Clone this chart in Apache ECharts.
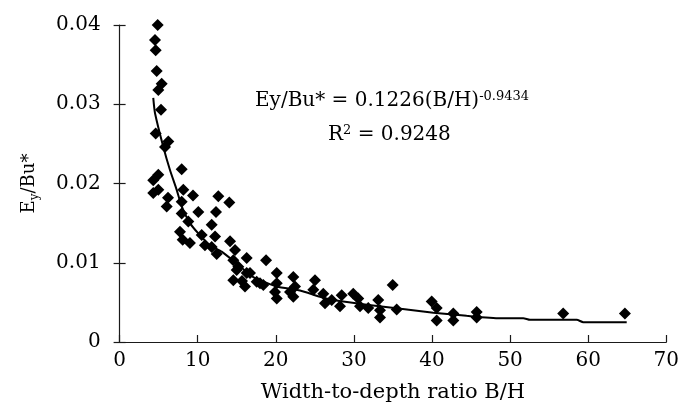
<!DOCTYPE html>
<html>
<head>
<meta charset="utf-8">
<script src="https://cdn.jsdelivr.net/npm/echarts@6/dist/echarts.min.js"></script>
<style>html,body{margin:0;padding:0;background:#fff}#c{width:691px;height:411px}</style>
</head>
<body>
<div id="c"></div>
<script>
// Observed data: width-to-depth ratio B/H vs Ey/Bu*
const bhRatio = [4.88,4.53,4.62,4.75,5.39,4.96,5.30,4.62,5.81,6.24,7.95,4.96,4.31,4.96,4.31,8.16,6.20,9.40,6.03,7.95,
  12.64,14.05,10.08,7.95,12.34,8.80,7.73,11.79,8.08,9.01,10.51,10.93,12.22,11.79,12.43,14.14,14.78,14.56,14.99,16.27,
  15.20,14.56,16.06,16.70,18.75,17.98,20.12,20.12,20.12,22.24,22.46,22.24,25.02,26.08,26.30,16.27,15.67,17.55,18.40,19.90,
  21.82,24.80,27.16,28.44,28.22,29.92,30.56,30.78,31.84,33.12,33.34,33.34,34.97,35.48,39.96,40.60,40.60,42.73,42.73,45.72,
  45.72,56.8,64.7];
const eyBu = [0.0400,0.0381,0.0368,0.0342,0.0326,0.0318,0.0293,0.0263,0.0246,0.0253,0.0218,0.0211,0.0204,0.0192,0.0188,0.0192,0.0182,0.0185,0.0171,0.0177,
  0.0184,0.0176,0.0164,0.0162,0.0164,0.0152,0.0139,0.0148,0.0129,0.0125,0.0135,0.0122,0.0133,0.0120,0.0111,0.0127,0.0116,0.0103,0.0091,0.0106,
  0.0095,0.0078,0.0070,0.0087,0.0103,0.0074,0.0087,0.0074,0.0055,0.0082,0.0070,0.0057,0.0078,0.0061,0.0049,0.0087,0.0077,0.0076,0.0072,0.0063,
  0.0063,0.0066,0.0053,0.0059,0.0045,0.0061,0.0055,0.0045,0.0043,0.0053,0.0040,0.0031,0.0072,0.0041,0.0051,0.0043,0.0027,0.0036,0.0027,0.0038,
  0.0031,0.0036,0.0036];
// Trend line
const trendX = [4.31,4.53,5.60,6.45,7.31,7.95,9.01,10.08,11.57,13.07,14.99,17.12,20.12,23.10,25.66,27.36,31.64,35.99,40.17,44.44,48.71,51.69,52.55,58.53,59.37,64.93];
const trendY = [0.0308,0.0289,0.0246,0.0217,0.0192,0.0171,0.0150,0.0137,0.0122,0.0114,0.0099,0.0082,0.0070,0.0065,0.0057,0.0053,0.0047,0.0042,0.0037,0.0033,0.0030,0.0030,0.0028,0.0028,0.0025,0.0025];
const xTicks = {min: 0, max: 70, interval: 10};
const yTicks = {min: 0, max: 0.04, interval: 0.01};
const xTitle = 'Width-to-depth ratio B/H';
const equationMain = 'Ey/Bu* = 0.1226(B/H)';
const equationExp = '-0.9434';
const r2Value = '0.9248';

const FONT = 'DejaVu Serif';
const scatterData = bhRatio.map((x, i) => [x, eyBu[i]]);
const trendData = trendX.map((x, i) => [x, trendY[i]]);

const chart = echarts.init(document.getElementById('c'), null, {renderer: 'canvas'});
const axisLineStyle = {color: '#1a1a1a', width: 1.2};
chart.setOption({
  animation: false,
  backgroundColor: '#fff',
  grid: {left: 119.6, right: 24.7, top: 25, bottom: 69, containLabel: false, outerBoundsMode: 'none'},
  xAxis: {
    type: 'value', min: xTicks.min, max: xTicks.max, interval: xTicks.interval,
    axisLine: {show: true, lineStyle: axisLineStyle},
    axisTick: {show: true, inside: true, length: 7, lineStyle: axisLineStyle},
    axisLabel: {color: '#000', fontFamily: FONT, fontSize: 20, margin: 9},
    splitLine: {show: false},
    name: xTitle, nameLocation: 'middle', nameGap: 40,
    nameTextStyle: {color: '#000', fontFamily: FONT, fontSize: 21}
  },
  yAxis: [{
    type: 'value', min: yTicks.min, max: yTicks.max, interval: yTicks.interval,
    axisLine: {show: true, lineStyle: axisLineStyle},
    axisTick: {show: true, inside: false, length: 6, lineStyle: axisLineStyle},
    axisLabel: {color: '#000', fontFamily: FONT, fontSize: 20, margin: 19},
    splitLine: {show: false},
    name: '{n|E}{s|y}{n|/Bu*}', nameLocation: 'middle', nameGap: 79, nameRotate: 90,
    nameTextStyle: {
      color: '#000', fontFamily: FONT, fontSize: 18,
      rich: {
        n: {fontFamily: FONT, fontSize: 18, color: '#000', lineHeight: 22},
        s: {fontFamily: FONT, fontSize: 12, color: '#000', verticalAlign: 'bottom', lineHeight: 14}
      }
    }
  }, {
    type: 'value', min: yTicks.min, max: yTicks.max, interval: yTicks.interval, position: 'left',
    axisLine: {show: false},
    axisTick: {show: true, inside: true, length: 6, lineStyle: axisLineStyle},
    axisLabel: {show: false},
    splitLine: {show: false}
  }],
  series: [{
    type: 'scatter', data: scatterData, symbol: 'diamond', symbolSize: 12, clip: false,
    itemStyle: {color: '#000', opacity: 1}, z: 3
  }, {
    type: 'line', data: trendData, showSymbol: false, symbol: 'none', smooth: 0.2,
    lineStyle: {color: '#000', width: 2}, z: 4
  }],
  graphic: [{
    type: 'text', left: 255, top: 90,
    style: {
      text: '{m|' + equationMain + '}{p|' + equationExp + '}',
      rich: {
        m: {fontFamily: FONT, fontSize: 20, fill: '#000', lineHeight: 22},
        p: {fontFamily: FONT, fontSize: 13, fill: '#000', verticalAlign: 'top', lineHeight: 16}
      }
    }
  }, {
    type: 'text', left: 328, top: 124,
    style: {
      text: '{m|R}{p|2}{m| = ' + r2Value + '}',
      rich: {
        m: {fontFamily: FONT, fontSize: 20, fill: '#000', lineHeight: 22},
        p: {fontFamily: FONT, fontSize: 13, fill: '#000', verticalAlign: 'top', lineHeight: 16}
      }
    }
  }]
});
</script>
</body>
</html>
